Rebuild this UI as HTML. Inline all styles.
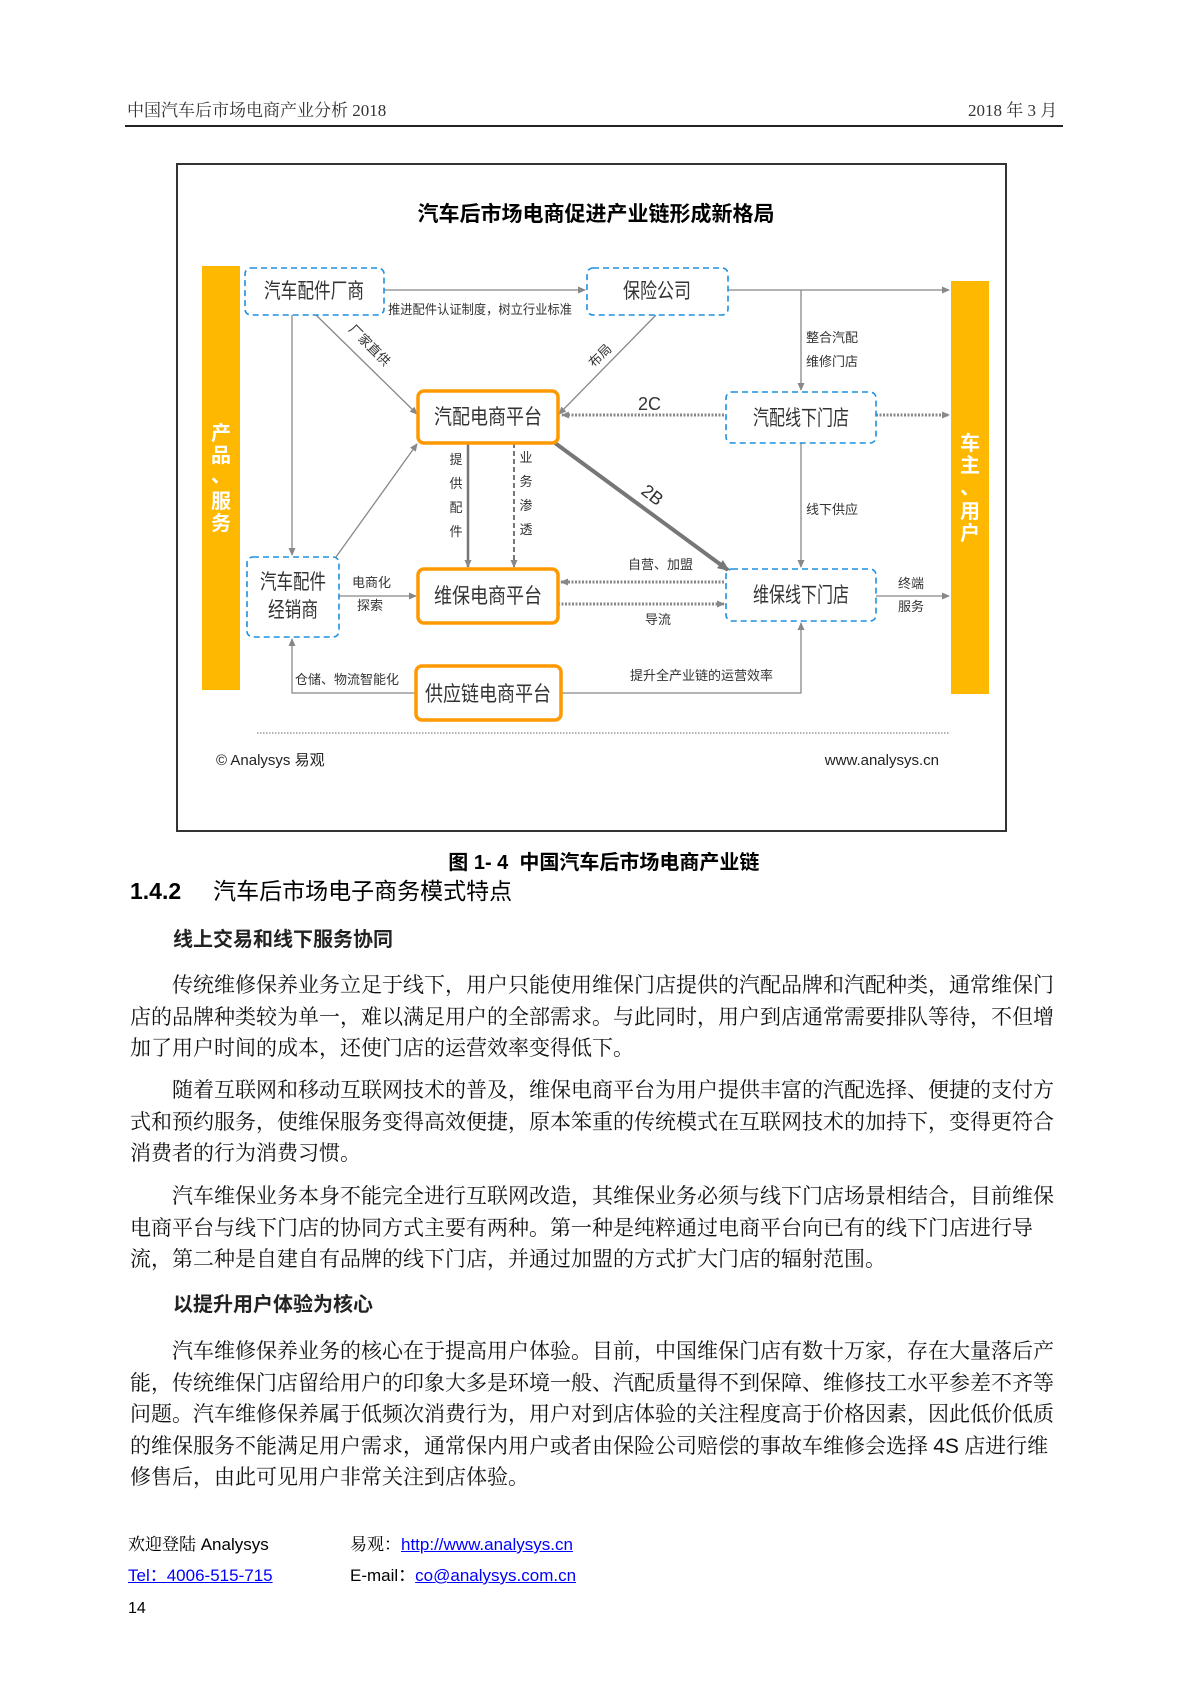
<!DOCTYPE html>
<html><head><meta charset="utf-8">
<style>
html,body{margin:0;padding:0;background:#fff;}
body{width:1191px;height:1684px;position:relative;overflow:hidden;font-family:"Liberation Sans","Noto Sans CJK SC",sans-serif;color:#000;}
.a{position:absolute;white-space:nowrap;}
.serif{font-family:"Liberation Serif","Noto Serif CJK SC",serif;}
.p{position:absolute;left:130px;width:930px;font-family:"Liberation Serif","Noto Serif CJK SC",serif;font-size:21px;line-height:31.5px;text-align:justify;text-align-last:left;color:#111;}
.p div{white-space:nowrap;height:31.5px;}
a{color:#00f;text-decoration:underline;}
</style></head><body>
<div class="a serif" style="left:127px;top:96px;font-size:17px;color:#333;">中国汽车后市场电商产业分析 2018</div>
<div class="a serif" style="left:968px;top:96px;font-size:17px;color:#333;">2018 年 3 月</div>
<div class="a" style="left:125px;top:125px;width:938px;height:2px;background:#222;"></div>

<svg class="a" style="left:0;top:0" width="1191" height="1684" viewBox="0 0 1191 1684">
<defs>
<marker id="ar" markerWidth="8" markerHeight="8" refX="7" refY="4" orient="auto" markerUnits="userSpaceOnUse"><path d="M0,0.5 L8,4 L0,7.5 z" fill="#888"/></marker>
<marker id="ar2" markerWidth="12" markerHeight="12" refX="10" refY="6" orient="auto" markerUnits="userSpaceOnUse"><path d="M0,1 L12,6 L0,11 z" fill="#777"/></marker>
</defs>
<rect x="177" y="164" width="829" height="667" fill="none" stroke="#333" stroke-width="2"/>
<text x="596" y="221" text-anchor="middle" font-size="21" font-weight="bold" font-family="Liberation Sans,Noto Sans CJK SC,sans-serif">汽车后市场电商促进产业链形成新格局</text>
<rect x="202" y="266" width="38" height="424" fill="#FFB800"/>
<rect x="951" y="281" width="38" height="413" fill="#FFB800"/>
<g font-size="20" font-weight="bold" fill="#fff" text-anchor="middle" font-family="Noto Sans CJK SC,sans-serif">
<text x="221" y="440">产</text><text x="221" y="462">品</text><text x="221" y="482">、</text><text x="221" y="508">服</text><text x="221" y="530">务</text>
<text x="970" y="450">车</text><text x="970" y="472">主</text><text x="970" y="494">、</text><text x="970" y="518">用</text><text x="970" y="540">户</text>
</g>
<g stroke="#888" stroke-width="1.3" fill="none">
<line x1="384" y1="290" x2="585" y2="290" marker-end="url(#ar)"/>
<line x1="728" y1="290" x2="949" y2="290" marker-end="url(#ar)"/>
<line x1="801" y1="290" x2="801" y2="390" marker-end="url(#ar)"/>
<line x1="316" y1="315" x2="417" y2="414" marker-end="url(#ar)"/>
<line x1="656" y1="315" x2="559" y2="414" marker-end="url(#ar)"/>
<line x1="292" y1="315" x2="292" y2="555" marker-end="url(#ar)"/>
<line x1="336" y1="557" x2="417" y2="444" marker-end="url(#ar)"/>
<line x1="801" y1="443" x2="801" y2="567" marker-end="url(#ar)"/>
<line x1="339" y1="596" x2="416" y2="596" marker-end="url(#ar)"/>
<line x1="876" y1="596" x2="949" y2="596" marker-end="url(#ar)"/>
<polyline points="416,693 292,693 292,639" marker-end="url(#ar)"/>
<polyline points="561,693 801,693 801,623" marker-end="url(#ar)"/>
</g>
<line x1="468" y1="443" x2="468" y2="567" stroke="#777" stroke-width="2.5" marker-end="url(#ar)"/>
<line x1="514" y1="443" x2="514" y2="567" stroke="#777" stroke-width="2" stroke-dasharray="5,3" marker-end="url(#ar)"/>
<line x1="555" y1="443" x2="728" y2="570" stroke="#777" stroke-width="4" marker-end="url(#ar2)"/>
<g stroke="#888" stroke-width="3" stroke-dasharray="2,1.5" fill="none">
<line x1="724" y1="415" x2="562" y2="415" marker-end="url(#ar)"/>
<line x1="876" y1="415" x2="949" y2="415" marker-end="url(#ar)"/>
<line x1="724" y1="582" x2="561" y2="582" marker-end="url(#ar)"/>
<line x1="558" y1="604" x2="724" y2="604" marker-end="url(#ar)"/>
</g>
<line x1="257" y1="733" x2="950" y2="733" stroke="#999" stroke-width="1.5" stroke-dasharray="1.5,1.5"/>
<g fill="#fff" stroke="#1E90E0" stroke-width="1.6" stroke-dasharray="6,4">
<rect x="245" y="268" width="139" height="47" rx="6"/>
<rect x="587" y="268" width="141" height="47" rx="6"/>
<rect x="726" y="392" width="150" height="51" rx="6"/>
<rect x="247" y="557" width="92" height="80" rx="6"/>
<rect x="726" y="569" width="150" height="52" rx="6"/>
</g>
<g fill="#fff" stroke="#FF9900" stroke-width="3.5">
<rect x="418" y="391" width="140" height="52" rx="6"/>
<rect x="418" y="569" width="140" height="54" rx="6"/>
<rect x="416" y="666" width="145" height="54" rx="6"/>
</g>
<g font-size="21" fill="#333" text-anchor="middle" font-family="Noto Sans CJK SC,sans-serif">
<text x="314" y="298" textLength="100" lengthAdjust="spacingAndGlyphs">汽车配件厂商</text>
<text x="657" y="298" textLength="68" lengthAdjust="spacingAndGlyphs">保险公司</text>
<text x="488" y="424" textLength="108" lengthAdjust="spacingAndGlyphs">汽配电商平台</text>
<text x="801" y="425" textLength="96" lengthAdjust="spacingAndGlyphs">汽配线下门店</text>
<text x="293" y="589" textLength="66" lengthAdjust="spacingAndGlyphs">汽车配件</text>
<text x="293" y="617" textLength="50" lengthAdjust="spacingAndGlyphs">经销商</text>
<text x="488" y="603" textLength="108" lengthAdjust="spacingAndGlyphs">维保电商平台</text>
<text x="801" y="602" textLength="96" lengthAdjust="spacingAndGlyphs">维保线下门店</text>
<text x="488" y="701" textLength="126" lengthAdjust="spacingAndGlyphs">供应链电商平台</text>
</g>
<g font-size="13" fill="#333" font-family="Noto Sans CJK SC,sans-serif">
<text x="388" y="314" textLength="184" lengthAdjust="spacingAndGlyphs">推进配件认证制度，树立行业标准</text>
<text x="806" y="342">整合汽配</text><text x="806" y="366">维修门店</text>
<text x="806" y="514">线下供应</text>
<text x="628" y="569">自营、加盟</text>
<text x="645" y="624">导流</text>
<text x="352" y="587">电商化</text><text x="357" y="610">探索</text>
<text x="898" y="588">终端</text><text x="898" y="611">服务</text>
<text x="295" y="684">仓储、物流智能化</text>
<text x="630" y="680">提升全产业链的运营效率</text>
<text transform="translate(348,330) rotate(45)">厂家直供</text>
<text transform="translate(594,368) rotate(-45)">布局</text>
<g text-anchor="middle"><text x="456" y="464">提</text><text x="456" y="488">供</text><text x="456" y="512">配</text><text x="456" y="536">件</text>
<text x="526" y="462">业</text><text x="526" y="486">务</text><text x="526" y="510">渗</text><text x="526" y="534">透</text></g>
</g>
<text x="638" y="410" font-size="18" fill="#333">2C</text>
<text transform="translate(640,493) rotate(38)" font-size="18" fill="#333">2B</text>
<text x="216" y="765" font-size="15" fill="#222" font-family="Liberation Sans,Noto Sans CJK SC,sans-serif">© Analysys 易观</text>
<text x="939" y="765" font-size="15" fill="#222" text-anchor="end">www.analysys.cn</text>
</svg>

<div class="a" style="left:0;width:1191px;text-align:center;top:846px;font-size:20px;font-weight:bold;">&nbsp;&nbsp;&nbsp;图 1- 4&nbsp; 中国汽车后市场电商产业链</div>
<div class="a" style="left:130px;top:872px;font-size:23px;font-weight:bold;">1.4.2<span style="display:inline-block;width:32px"></span><span style="font-weight:normal;">汽车后市场电子商务模式特点</span></div>
<div class="a" style="left:173px;top:923px;font-size:20px;font-weight:bold;color:#222;">线上交易和线下服务协同</div>

<div class="p" style="top:970px;">
<div>&emsp;&emsp;传统维修保养业务立足于线下，用户只能使用维保门店提供的汽配品牌和汽配种类，通常维保门</div>
<div>店的品牌种类较为单一，难以满足用户的全部需求。与此同时，用户到店通常需要排队等待，不但增</div>
<div>加了用户时间的成本，还使门店的运营效率变得低下。</div>
</div>
<div class="p" style="top:1075px;">
<div>&emsp;&emsp;随着互联网和移动互联网技术的普及，维保电商平台为用户提供丰富的汽配选择、便捷的支付方</div>
<div>式和预约服务，使维保服务变得高效便捷，原本笨重的传统模式在互联网技术的加持下，变得更符合</div>
<div>消费者的行为消费习惯。</div>
</div>
<div class="p" style="top:1181px;">
<div>&emsp;&emsp;汽车维保业务本身不能完全进行互联网改造，其维保业务必须与线下门店场景相结合，目前维保</div>
<div>电商平台与线下门店的协同方式主要有两种。第一种是纯粹通过电商平台向已有的线下门店进行导</div>
<div>流，第二种是自建自有品牌的线下门店，并通过加盟的方式扩大门店的辐射范围。</div>
</div>
<div class="a" style="left:173px;top:1288px;font-size:20px;font-weight:bold;color:#222;">以提升用户体验为核心</div>
<div class="p" style="top:1336px;">
<div>&emsp;&emsp;汽车维修保养业务的核心在于提高用户体验。目前，中国维保门店有数十万家，存在大量落后产</div>
<div>能，传统维保门店留给用户的印象大多是环境一般、汽配质量得不到保障、维修技工水平参差不齐等</div>
<div>问题。汽车维修保养属于低频次消费行为，用户对到店体验的关注程度高于价格因素，因此低价低质</div>
<div>的维保服务不能满足用户需求，通常保内用户或者由保险公司赔偿的事故车维修会选择 <span style="font-family:'Liberation Sans',sans-serif">4S</span> 店进行维</div>
<div>修售后，由此可见用户非常关注到店体验。</div>
</div>

<div class="a" style="left:128px;top:1530px;font-size:17px;"><span class="serif">欢迎登陆</span> Analysys</div>
<div class="a" style="left:128px;top:1561px;font-size:17px;"><a>Tel：4006-515-715</a></div>
<div class="a" style="left:350px;top:1530px;font-size:17px;"><span class="serif">易观：</span><a>http://www.analysys.cn</a></div>
<div class="a" style="left:350px;top:1561px;font-size:17px;">E-mail：<a>co@analysys.com.cn</a></div>
<div class="a" style="left:128px;top:1600px;font-size:16px;">14</div>
</body></html>
